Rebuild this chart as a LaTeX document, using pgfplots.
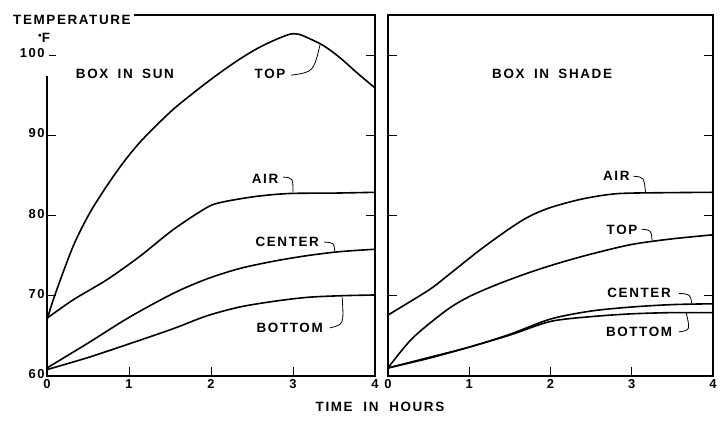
\documentclass[border=0pt]{standalone}
\usepackage{pgfplots}
\pgfplotsset{compat=1.18}
\usepackage{fontspec}
\setmainfont{Liberation Sans}[LetterSpace=12]
\newcommand{\lab}{\fontsize{13.5}{14}\selectfont\bfseries}
\tikzset{lead/.style={line width=0.8bp, black}}
\begin{document}%
\begin{tikzpicture}
\pgfplotsset{
  every axis/.style={
    scale only axis, height=361bp,
    xmin=0, xmax=4, ymin=60, ymax=105,
    xtick={0,1,2,3,4}, ytick={60,70,80,90,100},
    tick align=inside, xtick pos=lower, ytick pos=both,
    major tick length=9bp,
    every tick/.style={line width=1bp,black},
    axis line style={line width=1.1bp},
    tick label style={font=\fontsize{13}{13}\selectfont\bfseries},
    /pgf/number format/assume math mode=true,
    clip=false,
  },
  curve/.style={line width=1.6bp, black, smooth, no markers},
}
% ---- Box in sun
\begin{axis}[at={(0bp,0bp)}, anchor=south west, width=328bp,
  yticklabel style={xshift=1bp, yshift=2bp}]
\addplot[curve] coordinates {(0,67) (0.1,70.2) (0.32,76.2) (0.52,80.3) (0.73,83.7) (0.93,86.6) (1.13,89.1) (1.34,91.3) (1.54,93.25) (1.75,95) (1.95,96.6) (2.15,98.1) (2.35,99.5) (2.56,100.8) (2.76,101.8) (2.96,102.6) (3.07,102.6) (3.17,102.2) (3.37,101.2) (3.57,99.7) (3.78,97.8) (4,95.9)};
\addplot[curve] coordinates {(0,67.2) (0.32,69.5) (0.73,72) (1.13,74.9) (1.54,78.25) (1.95,81) (2.15,81.7) (2.56,82.4) (2.96,82.75) (3.5,82.8) (4,82.9)};
\addplot[curve] coordinates {(0,61) (0.5,64.1) (1,67.3) (1.54,70.3) (1.95,72.1) (2.35,73.4) (2.76,74.3) (3.17,75) (3.57,75.5) (4,75.8)};
\addplot[curve] coordinates {(0,60.8) (0.5,62.3) (1,64) (1.54,65.9) (1.95,67.5) (2.35,68.6) (2.76,69.3) (3.17,69.8) (3.57,70) (4,70.1)};
\node[font=\lab] at (axis cs:0.95,97.6) {BOX\hspace{0.7em}IN\hspace{0.7em}SUN};
\node[font=\lab] at (axis cs:2.72,97.6) {TOP};
\draw[lead] (axis cs:2.98,97.5) .. controls (axis cs:3.25,97.9) .. (axis cs:3.33,101.3);
\node[font=\lab] at (axis cs:2.66,84.6) {AIR};
\draw[lead] (axis cs:2.88,84.8) .. controls (axis cs:3.0,84.7) .. (axis cs:3.0,82.9);
\node[font=\lab] at (axis cs:2.93,76.75) {CENTER};
\draw[lead] (axis cs:3.38,76.7) .. controls (axis cs:3.5,76.6) .. (axis cs:3.51,75.5);
\node[font=\lab] at (axis cs:2.96,66.0) {BOTTOM};
\draw[lead] (axis cs:3.45,66.0) .. controls (axis cs:3.62,66.4) .. (axis cs:3.6,69.8);
\end{axis}
% ---- Box in shade
\begin{axis}[at={(341bp,0bp)}, anchor=south west, width=325bp, yticklabels={}]
\addplot[curve] coordinates {(0,67.6) (0.5,70.7) (0.72,72.4) (1.13,75.7) (1.5,78.4) (1.74,79.9) (2,81) (2.36,82) (2.7,82.6) (3,82.8) (4,82.9)};
\addplot[curve] coordinates {(0,61) (0.3,64.7) (0.72,68.2) (1,69.9) (1.34,71.4) (1.74,72.9) (2.11,74.1) (2.5,75.2) (3,76.4) (3.5,77.1) (4,77.6)};
\addplot[curve] coordinates {(0,61) (0.5,62.3) (1,63.6) (1.5,65.2) (2,67.1) (2.5,68.1) (3,68.6) (3.5,68.9) (4,69)};
\addplot[curve] coordinates {(0,61) (0.5,62.2) (1,63.6) (1.5,65.1) (2,66.8) (2.5,67.4) (3,67.75) (3.5,67.9) (4,67.9)};
\node[font=\lab] at (axis cs:2.02,97.6) {BOX\hspace{0.7em}IN\hspace{0.7em}SHADE};
\node[font=\lab] at (axis cs:2.81,84.9) {AIR};
\draw[lead] (axis cs:3.02,84.9) .. controls (axis cs:3.15,84.8) .. (axis cs:3.17,82.9);
\node[font=\lab] at (axis cs:2.88,78.25) {TOP};
\draw[lead] (axis cs:3.12,78.3) .. controls (axis cs:3.24,78.2) .. (axis cs:3.25,76.9);
\node[font=\lab] at (axis cs:3.09,70.4) {CENTER};
\draw[lead] (axis cs:3.58,70.3) .. controls (axis cs:3.72,70.2) .. (axis cs:3.74,69.0);
\node[font=\lab] at (axis cs:3.09,65.5) {BOTTOM};
\draw[lead] (axis cs:3.58,65.5) .. controls (axis cs:3.72,65.7) .. (axis cs:3.67,67.9);
\end{axis}
% masks and titles
\fill[white] (-1.5bp,300bp) rectangle (1.5bp,361bp);
\node[font=\lab, fill=white, inner xsep=3bp, inner ysep=1bp, anchor=north west] at (-37bp,362bp) {TEMPERATURE};
\node[font=\lab] at (-3bp,338bp) {\raisebox{0.35em}{\scriptsize$\bullet$}F};
\node[font=\lab] at (333bp,-31bp) {TIME\hspace{0.8em}IN\hspace{0.8em}HOURS};
\pgfresetboundingbox
\path[use as bounding box] (-47bp,-45bp) rectangle (674bp,376bp);
\end{tikzpicture}%
\end{document}
